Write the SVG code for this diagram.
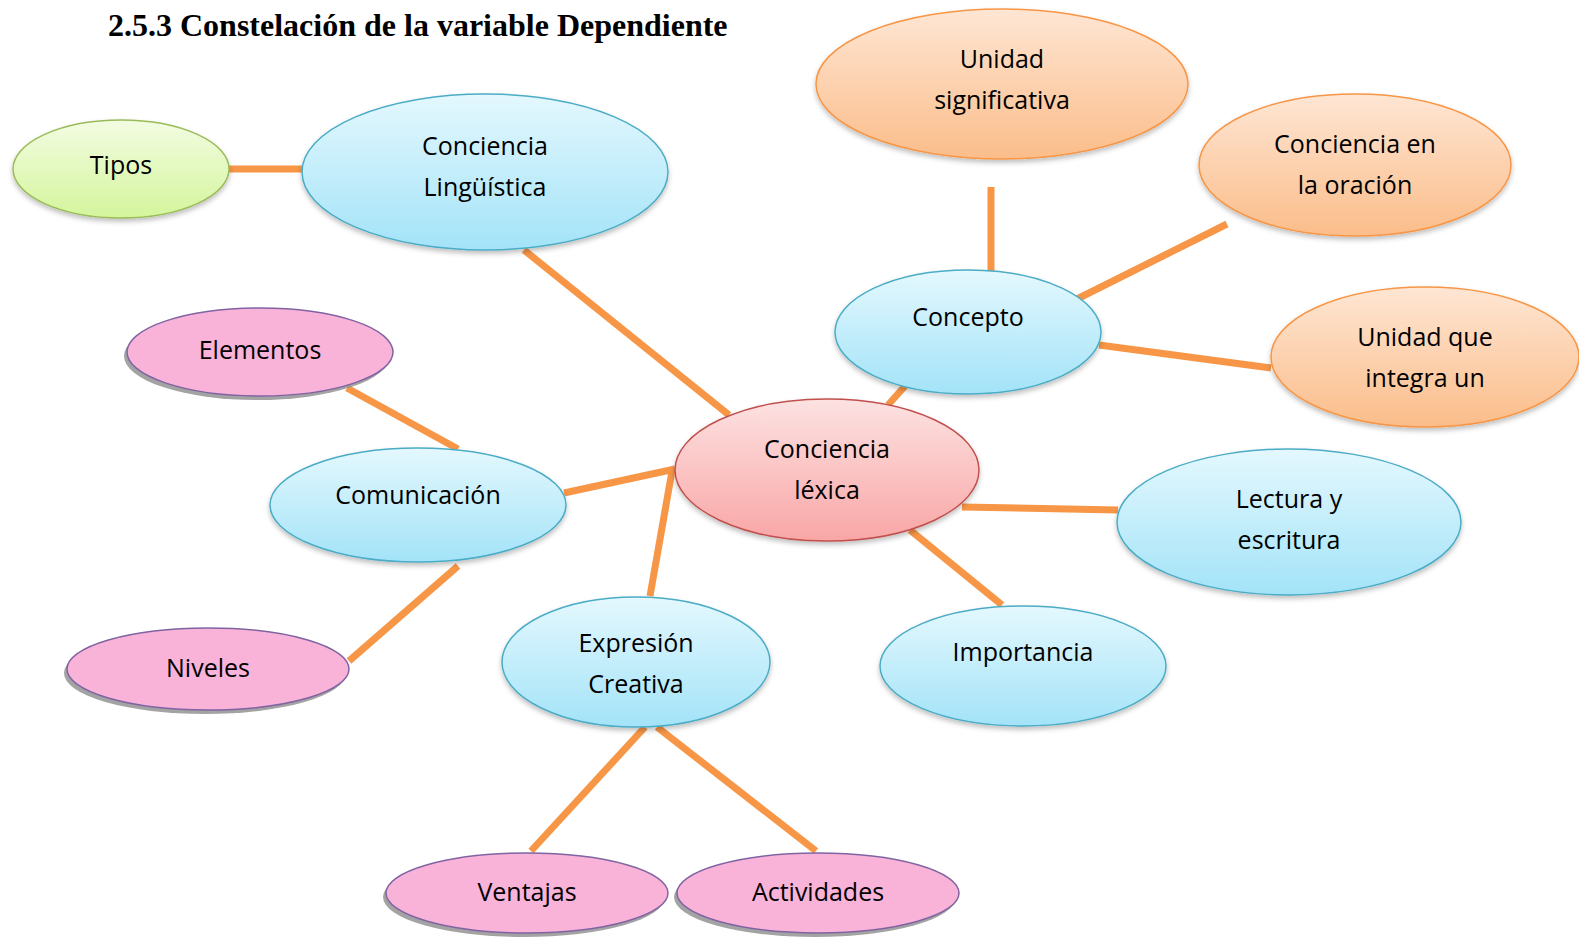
<svg xmlns="http://www.w3.org/2000/svg" width="1579" height="937" viewBox="0 0 1579 937">
<defs>
<linearGradient id="gBlue" x1="0" y1="0" x2="0" y2="1"><stop offset="0" stop-color="#E4F8FE"/><stop offset="1" stop-color="#A3E3F8"/></linearGradient>
<linearGradient id="gOrange" x1="0" y1="0" x2="0" y2="1"><stop offset="0" stop-color="#FEE6D4"/><stop offset="1" stop-color="#FBBD8A"/></linearGradient>
<linearGradient id="gRed" x1="0" y1="0" x2="0" y2="1"><stop offset="0" stop-color="#FDE2E2"/><stop offset="1" stop-color="#F9A6A6"/></linearGradient>
<linearGradient id="gGreen" x1="0" y1="0" x2="0" y2="1"><stop offset="0" stop-color="#F3FCE2"/><stop offset="1" stop-color="#D4F59C"/></linearGradient>
<filter id="sh" x="-10%" y="-10%" width="120%" height="130%"><feDropShadow dx="0" dy="3" stdDeviation="2.5" flood-color="#000" flood-opacity="0.25"/></filter>
</defs>
<style>
.t{font-family:"Open Sans","Noto Sans",sans-serif;font-size:25px;fill:#000;text-anchor:middle}
.title{font-family:"Liberation Serif",serif;font-weight:bold;font-size:32px;fill:#000}
.blue{fill:url(#gBlue);stroke:#4BACC6;stroke-width:1.5;filter:url(#sh)}
.orange{fill:url(#gOrange);stroke:#F79646;stroke-width:1.5;filter:url(#sh)}
.red{fill:url(#gRed);stroke:#C0504D;stroke-width:1.5;filter:url(#sh)}
.green{fill:url(#gGreen);stroke:#9BBB59;stroke-width:1.5;filter:url(#sh)}
.pink{fill:#F9B3D9;stroke:#8064A2;stroke-width:1.5}
.pinksh{fill:#8C8C8C;opacity:0.8}
.c line{stroke:#F79646;stroke-width:7}
</style>
<text class="title" x="108" y="36">2.5.3 Constelación de la variable Dependiente</text>
<g class="c" id="connectors">
<line x1="229" y1="169" x2="302" y2="169"/>
<line x1="524" y1="250" x2="729" y2="415"/>
<line x1="905" y1="386" x2="888" y2="405"/>
<line x1="991" y1="187" x2="991" y2="272"/>
<line x1="1075" y1="300" x2="1227" y2="224"/>
<line x1="1099" y1="345" x2="1271" y2="368"/>
<line x1="347" y1="388" x2="458" y2="449"/>
<line x1="564" y1="493" x2="675" y2="469"/>
<line x1="672" y1="471" x2="650" y2="596"/>
<line x1="349" y1="661" x2="458" y2="566"/>
<line x1="962" y1="507" x2="1118" y2="510"/>
<line x1="910" y1="530" x2="1002" y2="605"/>
<line x1="645" y1="727" x2="531" y2="851"/>
<line x1="657" y1="727" x2="816" y2="851"/>
</g>
<g id="tipos"><ellipse class="green" cx="121" cy="169" rx="108" ry="49"/><text class="t" x="121" y="174">Tipos</text></g>
<g id="conciencia-linguistica"><ellipse class="blue" cx="485" cy="172" rx="183" ry="78"/><text class="t" x="485" y="155">Conciencia</text><text class="t" x="485" y="196">Lingüística</text></g>
<g id="unidad-significativa"><ellipse class="orange" cx="1002" cy="84" rx="186" ry="75"/><text class="t" x="1002" y="68">Unidad</text><text class="t" x="1002" y="109">significativa</text></g>
<g id="conciencia-oracion"><ellipse class="orange" cx="1355" cy="165" rx="156" ry="71"/><text class="t" x="1355" y="153">Conciencia en</text><text class="t" x="1355" y="194">la oración</text></g>
<g id="concepto"><ellipse class="blue" cx="968" cy="332" rx="133" ry="62"/><text class="t" x="968" y="326">Concepto</text></g>
<g id="unidad-integra"><ellipse class="orange" cx="1425" cy="357" rx="154" ry="70"/><text class="t" x="1425" y="346">Unidad que</text><text class="t" x="1425" y="387">integra un</text></g>
<g id="elementos"><ellipse class="pinksh" cx="257" cy="356" rx="133" ry="44"/><ellipse class="pink" cx="260" cy="352" rx="133" ry="44"/><text class="t" x="260" y="359">Elementos</text></g>
<g id="comunicacion"><ellipse class="blue" cx="418" cy="505" rx="148" ry="57"/><text class="t" x="418" y="504">Comunicación</text></g>
<g id="conciencia-lexica"><ellipse class="red" cx="827" cy="470" rx="152" ry="71"/><text class="t" x="827" y="458">Conciencia</text><text class="t" x="827" y="499">léxica</text></g>
<g id="lectura-escritura"><ellipse class="blue" cx="1289" cy="522" rx="172" ry="73"/><text class="t" x="1289" y="508">Lectura y</text><text class="t" x="1289" y="549">escritura</text></g>
<g id="niveles"><ellipse class="pinksh" cx="205" cy="673" rx="141" ry="41"/><ellipse class="pink" cx="208" cy="669" rx="141" ry="41"/><text class="t" x="208" y="677">Niveles</text></g>
<g id="expresion-creativa"><ellipse class="blue" cx="636" cy="662" rx="134" ry="65"/><text class="t" x="636" y="652">Expresión</text><text class="t" x="636" y="693">Creativa</text></g>
<g id="importancia"><ellipse class="blue" cx="1023" cy="666" rx="143" ry="60"/><text class="t" x="1023" y="661">Importancia</text></g>
<g id="ventajas"><ellipse class="pinksh" cx="524" cy="897" rx="141" ry="40"/><ellipse class="pink" cx="527" cy="893" rx="141" ry="40"/><text class="t" x="527" y="901">Ventajas</text></g>
<g id="actividades"><ellipse class="pinksh" cx="815" cy="897" rx="141" ry="40"/><ellipse class="pink" cx="818" cy="893" rx="141" ry="40"/><text class="t" x="818" y="901">Actividades</text></g>
</svg>
